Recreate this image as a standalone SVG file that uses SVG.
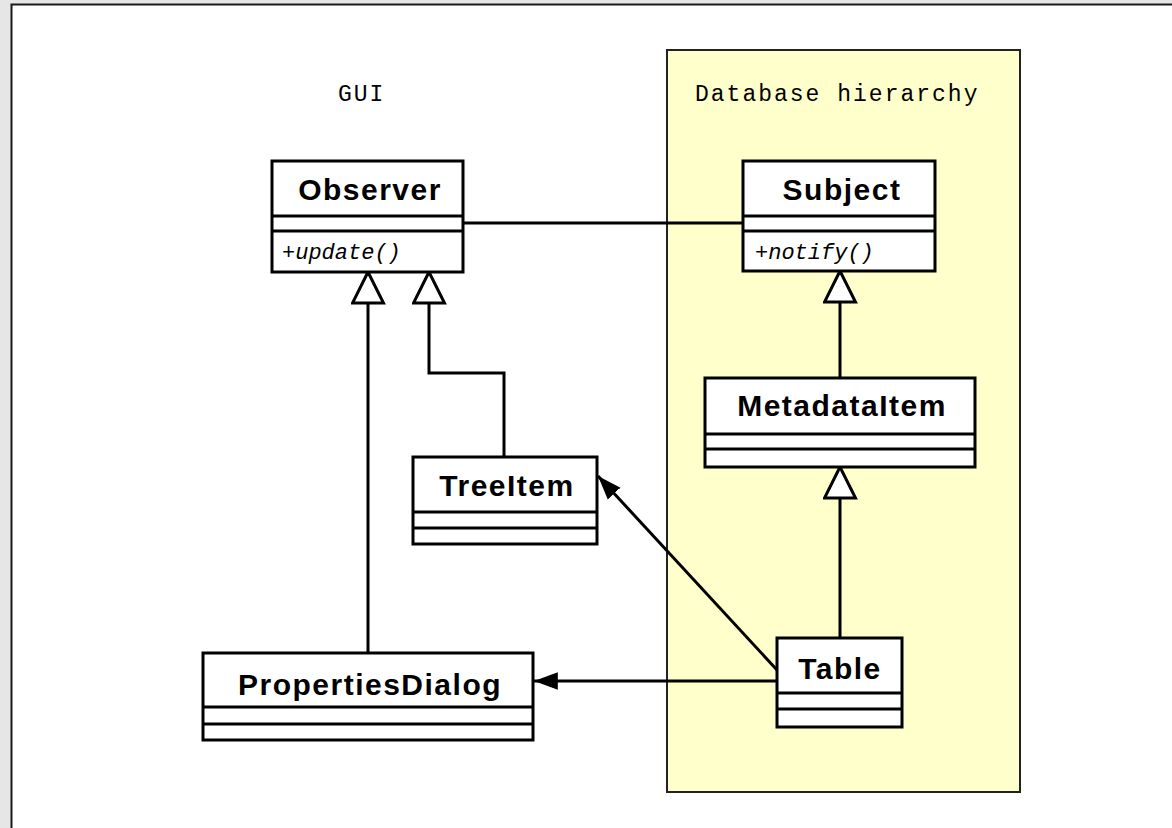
<svg xmlns="http://www.w3.org/2000/svg" width="1172" height="828" viewBox="0 0 1172 828">
<defs>
<style>
.box{fill:#ffffff;stroke:#000;stroke-width:3}
.div{stroke:#000;stroke-width:3}
.name{font-family:"Liberation Sans",Arial,sans-serif;font-weight:bold;font-size:30px;letter-spacing:1.5px;text-anchor:middle;fill:#000}
.op{font-family:"Liberation Mono","Courier New",monospace;font-style:italic;font-size:22px;fill:#000}
.lbl{font-family:"Liberation Mono","Courier New",monospace;font-size:23px;letter-spacing:2px;fill:#000}
.conn{fill:none;stroke:#000;stroke-width:3}
</style>
<marker id="gen" markerUnits="userSpaceOnUse" markerWidth="36" markerHeight="36" refX="31" refY="15.5" orient="auto" viewBox="-2 -2 36 36">
<path d="M31,15.5 L0,0 L0,31 Z" fill="#fff" stroke="#000" stroke-width="3"/>
</marker>
<marker id="arr" markerUnits="userSpaceOnUse" markerWidth="26" markerHeight="20" refX="22" refY="8" orient="auto" viewBox="0 -1 24 18">
<path d="M22,8 L0,0 L0,16 Z" fill="#000"/>
</marker>
</defs>
<rect x="0" y="0" width="1172" height="828" fill="#e6e6e6"/>
<rect x="11" y="4" width="1161" height="824" fill="#ffffff"/>
<path d="M11.5,828 V4.5 H1172" fill="none" stroke="#1a1a1a" stroke-width="2"/>

<g id="package-database">
<rect x="667" y="50" width="353" height="742" fill="#ffffcc" stroke="#222" stroke-width="2"/>
<text class="lbl" x="695" y="101">Database hierarchy</text>
</g>
<g id="label-gui">
<text class="lbl" x="338" y="101">GUI</text>
</g>

<g id="connectors">
<path class="conn" d="M463,223 H743"/>
<path class="conn" d="M368,653 V272" marker-end="url(#gen)"/>
<path class="conn" d="M504,457 V373 H429 V272" marker-end="url(#gen)"/>
<path class="conn" d="M840,378 V271" marker-end="url(#gen)"/>
<path class="conn" d="M840,638 V467" marker-end="url(#gen)"/>
<path class="conn" d="M777,670 L598,476" marker-end="url(#arr)"/>
<path class="conn" d="M777,681 H534" marker-end="url(#arr)"/>
</g>

<g id="Observer">
<rect class="box" x="272" y="161" width="191" height="111"/>
<line class="div" x1="272" y1="216" x2="463" y2="216"/>
<line class="div" x1="272" y1="231" x2="463" y2="231"/>
<text class="name" x="370" y="200">Observer</text>
<text class="op" x="282" y="259">+update()</text>
</g>

<g id="Subject">
<rect class="box" x="743" y="161" width="192" height="110"/>
<line class="div" x1="743" y1="216" x2="935" y2="216"/>
<line class="div" x1="743" y1="231" x2="935" y2="231"/>
<text class="name" x="842" y="200">Subject</text>
<text class="op" x="755" y="259">+notify()</text>
</g>

<g id="MetadataItem">
<rect class="box" x="705" y="378" width="270" height="89"/>
<line class="div" x1="705" y1="434" x2="975" y2="434"/>
<line class="div" x1="705" y1="449" x2="975" y2="449"/>
<text class="name" x="842" y="416">MetadataItem</text>
</g>

<g id="TreeItem">
<rect class="box" x="413" y="457" width="184" height="87"/>
<line class="div" x1="413" y1="512" x2="597" y2="512"/>
<line class="div" x1="413" y1="528" x2="597" y2="528"/>
<text class="name" x="507" y="496">TreeItem</text>
</g>

<g id="PropertiesDialog">
<rect class="box" x="203" y="653" width="330" height="87"/>
<line class="div" x1="203" y1="707" x2="533" y2="707"/>
<line class="div" x1="203" y1="724" x2="533" y2="724"/>
<text class="name" x="370" y="695">PropertiesDialog</text>
</g>

<g id="Table">
<rect class="box" x="777" y="638" width="125" height="89"/>
<line class="div" x1="777" y1="693" x2="902" y2="693"/>
<line class="div" x1="777" y1="709" x2="902" y2="709"/>
<text class="name" x="840" y="679">Table</text>
</g>
</svg>
